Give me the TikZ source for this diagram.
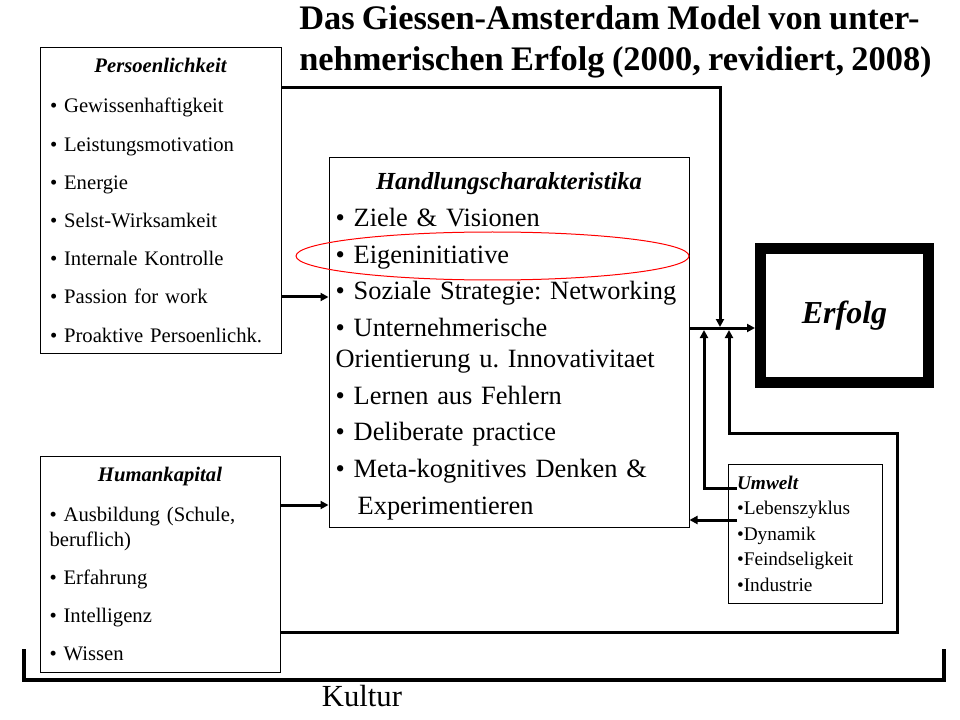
\documentclass[tikz,border=0pt]{standalone}
\usepackage{fontspec}
\setmainfont{Liberation Serif}[WordSpace=0.85]
\usetikzlibrary{arrows.meta}

\frenchspacing
\hyphenpenalty=10000
\newcommand{\boxhead}[1]{\makebox[\hsize]{\bfseries\itshape #1}}

\begin{document}
\begin{tikzpicture}[
    x=0.75pt, y=-0.75pt,
    box/.style={rectangle, draw, line width=0.75pt, inner sep=0pt, align=left},
    small/.style={font=\fontsize{15.5}{28.65}\selectfont, text width=165.75pt},
    conn/.style={-{Triangle[length=6pt, width=6pt]}, line width=2.25pt}
]
    \useasboundingbox (0,0) rectangle (960,720);

    \node[anchor=north west, inner sep=0pt, align=left, font=\fontsize{25.8}{30.75}\selectfont\bfseries] (title) at (299,5.7)
        {Das Giessen-Amsterdam Model von unter-\\nehmerischen Erfolg (2000, revidiert, 2008)};

    \node[box, small, minimum width=180.75pt, minimum height=228.75pt] (pers) at (160.5,200.5)
        {\boxhead{Persoenlichkeit}\\[1.35pt]
         • Gewissenhaftigkeit\\
         • Leistungsmotivation\\
         • Energie\\
         • Selst-Wirksamkeit\\
         • Internale Kontrolle\\
         • Passion for work\\
         • Proaktive Persoenlichk.};

    \node[box, small, minimum width=180pt, minimum height=162pt] (hum) at (160,564)
        {\boxhead{Humankapital}\\[1.35pt]
         • Ausbildung (Schule,\\[-9.9pt]
         beruflich)\\
         • Erfahrung\\
         • Intelligenz\\
         • Wissen};

    \node[box, font=\fontsize{19.8}{27.5}\selectfont, text width=260pt, minimum width=270pt, minimum height=276.75pt] (hand) at (509,342.5)
        {\boxhead{\fontsize{18.4}{27.5}\selectfont\rule{0pt}{18.6pt}Handlungscharakteristika}\\
         • Ziele \& Visionen\\
         • Eigeninitiative\\
         • Soziale Strategie: Networking\\
         • Unternehmerische\\[-4.25pt]
         Orientierung u. Innovativitaet\\
         • Lernen aus Fehlern\\
         • Deliberate practice\\
         • Meta-kognitives Denken \&\\
         \hspace*{16.5pt}Experimentieren};

    \node[box, font=\fontsize{14.5}{19.1}\selectfont, text width=102pt, minimum width=115.5pt, minimum height=104.25pt] (umw) at (805,533.5)
        {\textbf{\textit{Umwelt}}\\
         •Lebenszyklus\\
         •Dynamik\\
         •Feindseligkeit\\
         •Industrie};

    \node[rectangle, draw, line width=8.25pt, minimum width=126pt, minimum height=100.5pt, font=\fontsize{24}{28}\selectfont\bfseries\itshape] (erfolg) at (844.5,315.5) {Erfolg};

    \draw[red, line width=0.75pt] (492.5,256) ellipse [x radius=196.5, y radius=24];

    \coordinate (inA) at (704,330);
    \coordinate (inB) at (729,330);
    \coordinate (inC) at (720,327);
    \coordinate (umwA) at (737,488);
    \coordinate (umwB) at (737,520);

    \draw[conn] (pers.east |- 0,88) -| (inC);
    \draw[conn] (hand.east |- 0,328) -- (erfolg.west |- 0,328);
    \draw[conn] (pers.east |- 0,297) -- (hand.west |- 0,297);
    \draw[conn] (hum.east |- 0,505) -- (hand.west |- 0,505);
    \draw[conn] (hum.east |- 0,632) -| (897,433) -| (inB);
    \draw[conn] (umwA) -| (inA);
    \draw[conn] (umwB) -- (hand.east |- umwB);

    \draw[line width=3pt] (24,649) |- (944,680) -- (944,649);
    \node[font=\fontsize{23}{27}\selectfont] (kultur) at (362,696.5) {Kultur};
\end{tikzpicture}
\end{document}
